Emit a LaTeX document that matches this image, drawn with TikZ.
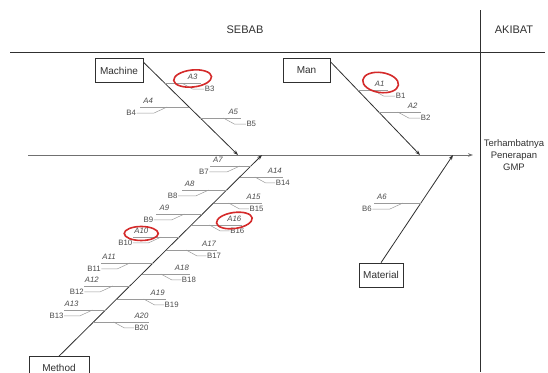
\documentclass[tikz,border=0pt]{standalone}
\usepackage{fontspec}
\setmainfont{Liberation Sans}
\usetikzlibrary{calc,arrows.meta}

\definecolor{ink}{HTML}{303030}
\definecolor{twig}{HTML}{9A9A9A}
\definecolor{lbl}{HTML}{4A4A4A}
\definecolor{marker}{HTML}{D42A2A}

\tikzset{
  bone/.style={draw=ink, line width=0.8pt},
  twigline/.style={draw=twig, line width=0.5pt},
  catbox/.style={draw=ink, line width=0.7pt, fill=white, text=ink,
    font=\fontsize{10}{12}\selectfont, inner sep=0pt, minimum height=24pt},
  alabel/.style={font=\fontsize{7.8}{9}\selectfont\itshape, text=lbl, inner sep=0.5pt},
  blabel/.style={font=\fontsize{7.8}{9}\selectfont, text=lbl, inner sep=0.5pt},
  ring/.style={draw=marker, line width=1.6pt},
  tip/.style={-{Stealth[length=5pt,width=3.6pt]}},
}

% sub-cause on the right of a bone: bone #1--#2, height #3,
% offsets of the A and B labels #4/#5, labels #6/#7
\newcommand\twigR[7]{%
  \coordinate (#6j) at (intersection of #1--#2 and 0,#3--600,#3);
  \draw[twigline] (#6j) -- ++(#4+8,0);
  \node[alabel] (#6) at ($(#6j)+(#4,-6.5)$) {#6};
  \node[blabel] (#7) at ($(#6j)+(#5,6)$) {#7};
  \draw[twigline] ($(#6j)+(#5-28,0)$) -- ($(#6j)+(#5-17,6)$) -- (#7.west);
}
% sub-cause on the left of a bone
\newcommand\twigL[7]{%
  \coordinate (#6j) at (intersection of #1--#2 and 0,#3--600,#3);
  \draw[twigline] (#6j) -- ++(-#4-8,0);
  \node[alabel] (#6) at ($(#6j)+(-#4,-6.5)$) {#6};
  \node[blabel] (#7) at ($(#6j)+(-#5,6)$) {#7};
  \draw[twigline] (#7.east) -- ($(#6j)+(-#5+23,6)$) -- ($(#6j)+(-#5+36,0)$);
}

\begin{document}
\begin{tikzpicture}[x=1pt,y=-1pt]
\useasboundingbox (0,0) rectangle (548,372);

% header
\node[font=\fontsize{11}{13}\selectfont, text=ink] (sebab) at (245,30) {SEBAB};
\node[font=\fontsize{11}{13}\selectfont, text=ink] (akibat) at (514,30) {AKIBAT};
\coordinate (hl) at (10,52);
\coordinate (hr) at (545,52);
\coordinate (vt) at (480,10);
\coordinate (vb) at (480,372);
\draw[bone] (hl) -- (hr);
\draw[bone] (vt) -- (vb);

% effect and spine
\node[align=center, font=\fontsize{9.5}{12}\selectfont, text=ink, inner sep=0pt] (effect) at (514,155)
  {Terhambatnya\\Penerapan\\GMP};
\coordinate (tail) at (28,155);
\coordinate (head) at (473,155);
\draw[bone, twig!60!ink, tip] (tail) -- (head);

% category boxes
\node[catbox, minimum width=48pt] (machine) at (119,70.5) {Machine};
\node[catbox, minimum width=47pt] (man) at (306.5,70) {Man};
\node[catbox, minimum width=44pt] (material) at (381,275) {Material};
\node[catbox, minimum width=60pt, minimum height=22pt] (method) at (59,367.5) {Method};

% bones
\coordinate (machineFrom) at ($(machine.north east)+(0,4)$);
\coordinate (machineTip) at (238,155);
\coordinate (manFrom) at ($(man.north east)+(0,4)$);
\coordinate (manTip) at (420,155);
\coordinate (materialFrom) at (material.north);
\coordinate (materialTip) at (453,155);
\coordinate (methodFrom) at (method.north);
\coordinate (methodTip) at (262,155);
\draw[bone, tip] (machineFrom) -- (machineTip);
\draw[bone, tip] (manFrom) -- (manTip);
\draw[bone, tip] (materialFrom) -- (materialTip);
\draw[bone, tip] (methodFrom) -- (methodTip);

% machine
\twigR{machineFrom}{machineTip}{83}{28}{45}{A3}{B3}
\twigL{machineFrom}{machineTip}{107}{41}{58}{A4}{B4}
\twigR{machineFrom}{machineTip}{118}{33}{51}{A5}{B5}
% man
\twigR{manFrom}{manTip}{90}{22}{43}{A1}{B1}
\twigR{manFrom}{manTip}{112}{34}{47}{A2}{B2}
% material
\twigL{materialFrom}{materialTip}{203}{39}{54}{A6}{B6}
% method, left side
\twigL{methodFrom}{methodTip}{166}{33}{47}{A7}{B7}
\twigL{methodFrom}{methodTip}{190}{37}{54}{A8}{B8}
\twigL{methodFrom}{methodTip}{214}{38}{54}{A9}{B9}
\twigL{methodFrom}{methodTip}{237}{38}{54}{A10}{B10}
\twigL{methodFrom}{methodTip}{263}{44}{59}{A11}{B11}
\twigL{methodFrom}{methodTip}{286}{38}{53}{A12}{B12}
\twigL{methodFrom}{methodTip}{310}{34}{49}{A13}{B13}
% method, right side
\twigR{methodFrom}{methodTip}{177}{35}{43}{A14}{B14}
\twigR{methodFrom}{methodTip}{203}{40}{43}{A15}{B15}
\twigR{methodFrom}{methodTip}{225}{43}{46}{A16}{B16}
\twigR{methodFrom}{methodTip}{250}{43}{48}{A17}{B17}
\twigR{methodFrom}{methodTip}{274}{40}{47}{A18}{B18}
\twigR{methodFrom}{methodTip}{299}{41}{55}{A19}{B19}
\twigR{methodFrom}{methodTip}{322}{48}{48}{A20}{B20}

% hand-drawn highlight rings
\draw[ring] ($(A3)+(0,2)$) ellipse [x radius=19pt, y radius=8.5pt, rotate=6];
\draw[ring] ($(A1)+(1,-1)$) ellipse [x radius=18pt, y radius=10pt, rotate=-8];
\draw[ring] ($(A10)+(0,3)$) ellipse [x radius=17pt, y radius=7pt];
\draw[ring] ($(A16)+(0,2)$) ellipse [x radius=18pt, y radius=8pt, rotate=8];
\end{tikzpicture}
\end{document}
